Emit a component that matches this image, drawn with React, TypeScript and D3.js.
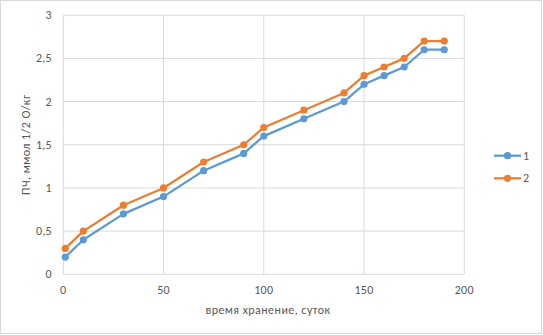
import React from "react";
import * as d3 from "d3";

const days = [1, 10, 30, 50, 70, 90, 100, 120, 140, 150, 160, 170, 180, 190];
const series1 = [0.2, 0.4, 0.7, 0.9, 1.2, 1.4, 1.6, 1.8, 2.0, 2.2, 2.3, 2.4, 2.6, 2.6];
const series2 = [0.3, 0.5, 0.8, 1.0, 1.3, 1.5, 1.7, 1.9, 2.1, 2.3, 2.4, 2.5, 2.7, 2.7];
const xTicks = [0, 50, 100, 150, 200];
const yTicks = [0, 0.5, 1, 1.5, 2, 2.5, 3];
const seriesNames = ["1", "2"];
const colors = ["#5B9BD5", "#ED7D31"];
const xTitle = "время хранение, суток";
const yTitle = "ПЧ, ммол 1/2 О/кг";

const W = 543;
const H = 335;
const left = 63.3;
const right = 464.3;
const top = 15.2;
const bottom = 274.3;

export default function App() {
  const x = d3.scaleLinear().domain([0, 200]).range([left, right]);
  const y = d3.scaleLinear().domain([0, 3]).range([bottom, top]);
  const line = d3
    .line<number>()
    .x((_, i) => x(days[i]))
    .y((d) => y(d));
  const all = [series1, series2];
  const fmt = (v: number) => String(v).replace(".", ",");
  const font = "Calibri, Carlito, 'Liberation Sans', Arial, sans-serif";
  const legendY = [155.7, 178.3];

  return (
    <svg
      width={W}
      height={H}
      style={{ position: "absolute", left: 0, top: 0 }}
      fontFamily={font}
    >
      <rect x={0} y={0} width={W} height={H} fill="#fff" />
      <rect x={0.5} y={0.5} width={W - 2} height={H - 2} fill="none" stroke="#D9D9D9" />
      {yTicks.map((t) => (
        <line key={"gy" + t} x1={left} x2={right} y1={y(t)} y2={y(t)} stroke="#D9D9D9" strokeWidth={1} />
      ))}
      {xTicks.map((t) => (
        <line key={"gx" + t} x1={x(t)} x2={x(t)} y1={top} y2={bottom} stroke="#D9D9D9" strokeWidth={1} />
      ))}
      {yTicks.map((t) => (
        <text key={"ly" + t} x={52} y={y(t) + 4} textAnchor="end" fontSize={12} letterSpacing={0.3} fill="#595959">
          {fmt(t)}
        </text>
      ))}
      {xTicks.map((t) => (
        <text key={"lx" + t} x={x(t)} y={294} textAnchor="middle" fontSize={12} letterSpacing={0.3} fill="#595959">
          {t}
        </text>
      ))}
      <text x={268} y={314} textAnchor="middle" fontSize={12} letterSpacing={0.45} fill="#595959">
        {xTitle}
      </text>
      <text
        transform={`translate(30,${(top + bottom) / 2}) rotate(-90)`}
        textAnchor="middle"
        fontSize={12}
        letterSpacing={0.45}
        fill="#595959"
      >
        {yTitle}
      </text>
      {all.map((s, k) => (
        <g key={"s" + k}>
          <path d={line(s) || ""} fill="none" stroke={colors[k]} strokeWidth={2.25} strokeLinejoin="round" />
          {s.map((v, i) => (
            <circle key={i} cx={x(days[i])} cy={y(v)} r={3.6} fill={colors[k]} />
          ))}
        </g>
      ))}
      {seriesNames.map((n, k) => (
        <g key={"lg" + k}>
          <line x1={494} x2={521} y1={legendY[k]} y2={legendY[k]} stroke={colors[k]} strokeWidth={2.25} />
          <circle cx={507.5} cy={legendY[k]} r={3.6} fill={colors[k]} />
          <text x={523} y={legendY[k] + 4} fontSize={12} fill="#595959">
            {n}
          </text>
        </g>
      ))}
    </svg>
  );
}
